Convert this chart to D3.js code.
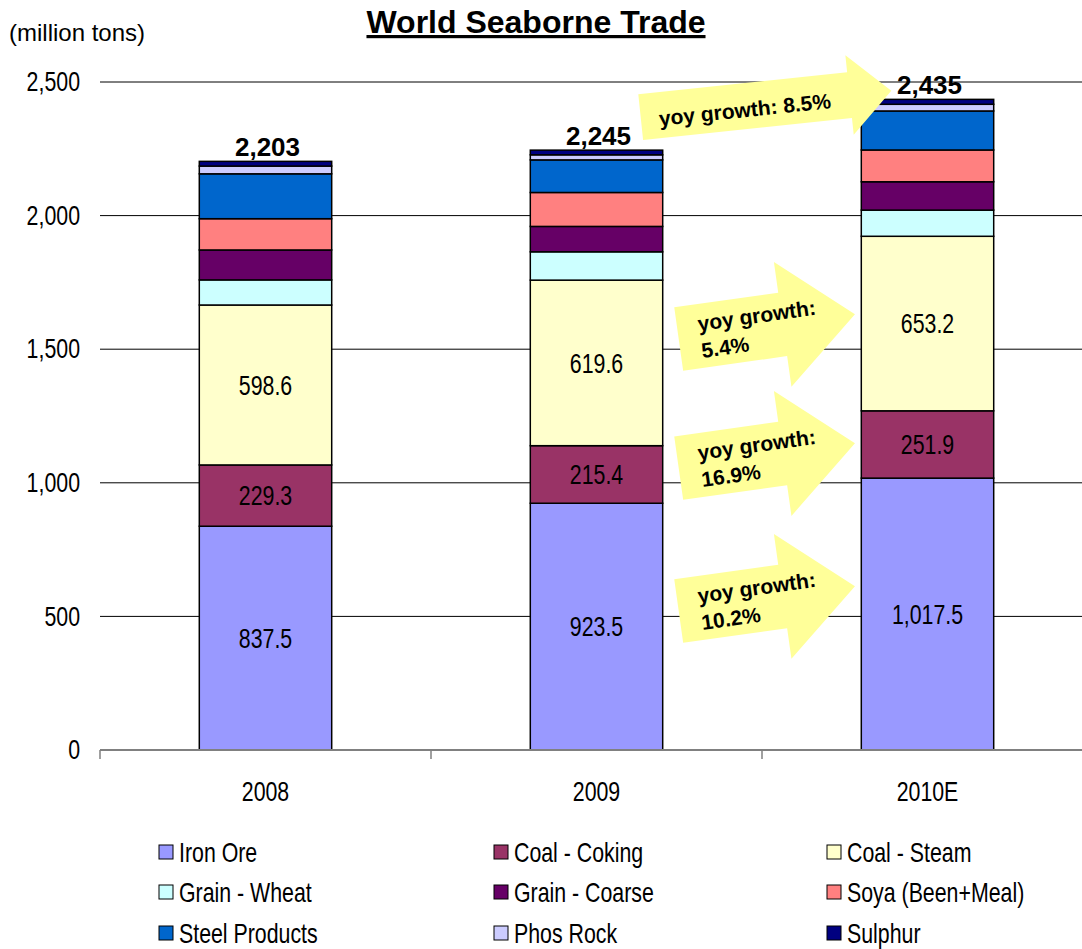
<!DOCTYPE html>
<html>
<head>
<meta charset="utf-8">
<script src="https://cdn.jsdelivr.net/npm/d3@7"></script>
<style>
  body { margin: 0; background: #fff; }
  svg { display: block; font-family: "Liberation Sans", Arial, sans-serif; }
</style>
</head>
<body>
<svg id="chart" width="1082" height="949"></svg>
<script>

    var years = ["2008", "2009", "2010E"];
    var series = ["Iron Ore", "Coal - Coking", "Coal - Steam", "Grain - Wheat", "Grain - Coarse",
                  "Soya (Been+Meal)", "Steel Products", "Phos Rock", "Sulphur"];
    var colors = ["#9999ff", "#993366", "#ffffcc", "#ccffff", "#660066",
                  "#ff8080", "#0066cc", "#ccccff", "#000080"];

    var ironOre = [837.5, 923.5, 1017.5];
    var coalCoking = [229.3, 215.4, 251.9];
    var coalSteam = [598.6, 619.6, 653.2];
    var grainWheat = [94, 106, 98];
    var grainCoarse = [112, 95, 106];
    var soya = [117, 127, 119];
    var steel = [168, 122, 146];
    var phosRock = [29, 19, 25];
    var sulphur = [17.6, 17.5, 18.4];

    var totals = [2203, 2245, 2435];
    var labelledSeries = ["Iron Ore", "Coal - Coking", "Coal - Steam"];

    var yTicks = [0, 500, 1000, 1500, 2000, 2500];

    // growth arrows: label lines, value the arrow sits at
    var growthLabels = [["yoy growth: 8.5%"], ["yoy growth:", "5.4%"], ["yoy growth:", "16.9%"], ["yoy growth:", "10.2%"]];
    var growthAnchors = [2369, 1538, 1055, 520];

    var allValues = [ironOre, coalCoking, coalSteam, grainWheat, grainCoarse, soya, steel, phosRock, sulphur];

    var data = years.map(function(year, i) {
        var row = {year: year};
        series.forEach(function(s, j) { row[s] = allValues[j][i]; });
        return row;
    });

    // no narrow font installed, so squeeze the regular one
    var squeeze = 0.79;
    function narrow(sel) {
        sel.each(function() {
            var t = d3.select(this);
            var x0 = +t.attr("x") || 0;
            t.attr("x", x0 / squeeze).attr("transform", "scale(" + squeeze + ",1)");
        });
    }

    var svg = d3.select("#chart");

    var x = d3.scaleBand().domain(years).range([100, 1093]).paddingInner(0.6).paddingOuter(0.3);
    var y = d3.scaleLinear().domain([0, 2500]).range([750, 82]);
    var color = d3.scaleOrdinal().domain(series).range(colors);

    // gridlines
    svg.append("g").selectAll("line").data(yTicks.filter(function(d) { return d > 0; })).enter().append("line")
        .attr("x1", 100).attr("x2", 1082)
        .attr("y1", function(d) { return y(d); }).attr("y2", function(d) { return y(d); })
        .attr("stroke", "#000").attr("stroke-width", 1);

    // y axis labels
    var yAxis = svg.append("g").attr("transform", "translate(100,0)")
        .call(d3.axisLeft(y).tickValues(yTicks).tickFormat(d3.format(",")).tickSize(0).tickPadding(20));
    yAxis.select(".domain").remove();
    yAxis.selectAll("text").attr("font-size", 27).attr("fill", "#000").call(narrow);
    yAxis.attr("font-family", null);

    // stacked bars
    var stack = d3.stack().keys(series);
    var layers = stack(data);

    var layerGroup = svg.append("g").selectAll("g").data(layers).enter().append("g")
        .attr("fill", function(d) { return color(d.key); });

    layerGroup.selectAll("rect").data(function(d) { return d; }).enter().append("rect")
        .attr("x", function(d) { return x(d.data.year); })
        .attr("width", x.bandwidth())
        .attr("y", function(d) { return y(d[1]); })
        .attr("height", function(d) { return y(d[0]) - y(d[1]); })
        .attr("stroke", "#000").attr("stroke-width", 1.5);

    // segment value labels
    var labelLayers = layers.filter(function(d) { return labelledSeries.indexOf(d.key) >= 0; });
    svg.append("g").selectAll("g").data(labelLayers).enter().append("g")
        .selectAll("text").data(function(d) { return d.map(function(p) { return {p: p, key: d.key}; }); }).enter().append("text")
        .attr("x", function(d) { return x(d.p.data.year) + x.bandwidth() / 2; })
        .attr("y", function(d) { return (y(d.p[0]) + y(d.p[1])) / 2; })
        .attr("dy", "0.36em")
        .attr("text-anchor", "middle")
        .attr("font-size", 27)
        .text(function(d) { return d3.format(",.1f")(d.p.data[d.key]); })
        .call(narrow);

    // x axis
    svg.append("line").attr("x1", 100).attr("x2", 1082).attr("y1", y(0)).attr("y2", y(0))
        .attr("stroke", "#808080").attr("stroke-width", 2);
    svg.append("g").selectAll("line").data(d3.range(years.length)).enter().append("line")
        .attr("x1", function(i) { return 100 + i * x.step(); })
        .attr("x2", function(i) { return 100 + i * x.step(); })
        .attr("y1", y(0)).attr("y2", y(0) + 9)
        .attr("stroke", "#808080").attr("stroke-width", 1.5);

    var xAxis = svg.append("g").attr("transform", "translate(0," + y(0) + ")")
        .call(d3.axisBottom(x).tickSize(0).tickPadding(32));
    xAxis.select(".domain").remove();
    xAxis.selectAll("text").attr("font-size", 27).attr("fill", "#000").call(narrow);
    xAxis.attr("font-family", null);

    // growth arrows
    var arrowShapes = [
        {L: 252, bl: 210, h1: 23, h2: 40, angle: -6, dx: -22},
        {L: 178, bl: 105, h1: 32, h2: 63, angle: -8, dx: 16},
        {L: 178, bl: 105, h1: 32, h2: 63, angle: -8, dx: 16},
        {L: 178, bl: 105, h1: 32, h2: 63, angle: -8, dx: 16}
    ];
    var arrow = svg.append("g").selectAll("g").data(growthLabels).enter().append("g")
        .attr("transform", function(d, i) {
            var s = arrowShapes[i];
            return "translate(" + (x("2009") + x.bandwidth() + s.dx) + "," + y(growthAnchors[i]) + ") rotate(" + s.angle + ")";
        });
    arrow.append("polygon").attr("fill", "#ffff99")
        .attr("points", function(d, i) {
            var s = arrowShapes[i];
            return [[0, -s.h1], [s.bl, -s.h1], [s.bl, -s.h2], [s.L, 0], [s.bl, s.h2], [s.bl, s.h1], [0, s.h1]].join(" ");
        });
    arrow.append("text")
        .attr("font-weight", "bold").attr("font-size", 21)
        .attr("fill", "#000")
        .each(function(d) {
            var t = d3.select(this);
            if (d.length === 1) {
                t.append("tspan").attr("x", 18).attr("y", 11).text(d[0]);
            } else {
                t.append("tspan").attr("x", 21).attr("y", -5).text(d[0]);
                t.append("tspan").attr("x", 21).attr("y", 22).text(d[1]);
            }
        });

    // totals
    svg.append("g").selectAll("text").data(totals).enter().append("text")
        .attr("x", function(d, i) { return x(years[i]) + x.bandwidth() / 2 + 2; })
        .attr("y", function(d) { return y(d) - 5; })
        .attr("text-anchor", "middle")
        .attr("font-weight", "bold").attr("font-size", 26)
        .text(d3.format(","));

    // title
    svg.append("text").attr("x", 536).attr("y", 33).attr("text-anchor", "middle")
        .attr("font-weight", "bold").attr("font-size", 32)
        .attr("text-decoration", "underline")
        .text("World Seaborne Trade");

    svg.append("text").attr("x", 9).attr("y", 41)
        .attr("font-size", 24)
        .text("(million tons)");

    // legend
    var legendCols = [159, 494, 827];
    var legendRows = [852, 892, 933];
    var legend = svg.append("g").selectAll("g").data(series).enter().append("g")
        .attr("transform", function(d, i) {
            return "translate(" + legendCols[i % 3] + "," + legendRows[Math.floor(i / 3)] + ")";
        });
    legend.append("rect").attr("x", 0).attr("y", -7).attr("width", 14).attr("height", 14)
        .attr("fill", function(d) { return color(d); })
        .attr("stroke", "#000").attr("stroke-width", 1);
    legend.append("text").attr("x", 20).attr("dy", "0.36em").attr("font-size", 27)
        .text(function(d) { return d; })
        .call(narrow);

</script>
</body>
</html>
